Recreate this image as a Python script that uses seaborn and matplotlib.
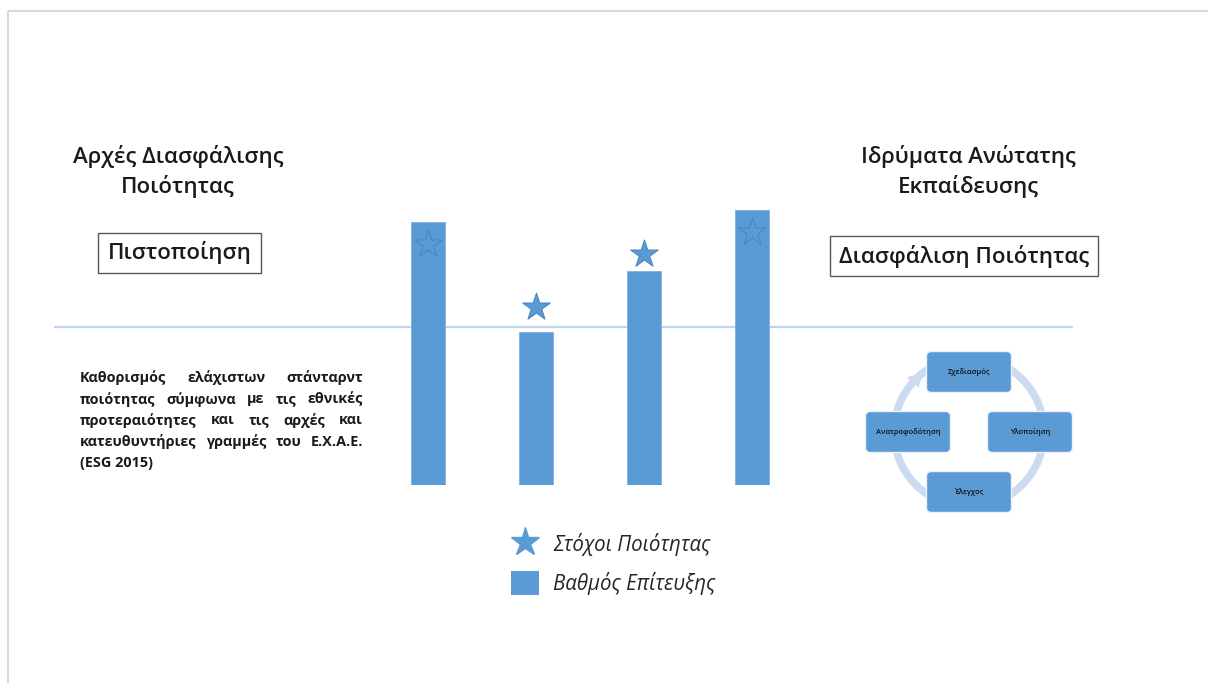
import matplotlib
matplotlib.use('Agg')
import matplotlib.pyplot as plt
import seaborn as sns
import pandas as pd
import numpy as np
from matplotlib.patches import Rectangle, FancyBboxPatch, Circle, Polygon, Patch
from matplotlib.lines import Line2D

# ---------------- data ----------------
categories = ['1', '2', '3', '4']
achievement = [87.7, 51.0, 71.3, 91.7]   # Βαθμός Επίτευξης (bars)
targets = [80.3, 59.3, 77.0, 84.3]       # Στόχοι Ποιότητας (stars)
threshold = 52.7                         # reference line
legend_labels = ['Στόχοι Ποιότητας', 'Βαθμός Επίτευξης']
left_title = ['Αρχές Διασφάλισης', 'Ποιότητας']
right_title = ['Ιδρύματα Ανώτατης', 'Εκπαίδευσης']
left_box = 'Πιστοποίηση'
right_box = 'Διασφάλιση Ποιότητας'
paragraph_lines = [
    'Καθορισμός ελάχιστων στάνταρντ',
    'ποιότητας σύμφωνα με τις εθνικές',
    'προτεραιότητες και τις αρχές και',
    'κατευθυντήριες γραμμές του Ε.Χ.Α.Ε.',
    '(ESG 2015)',
]
cycle_steps = ['Σχεδιασμός', 'Υλοποίηση', 'Έλεγχος', 'Ανατροφοδότηση']

# ---------------- style ----------------
sns.set_theme(style='white')
plt.rcParams['font.family'] = ['Open Sans', 'DejaVu Sans']

BLUE = '#5b9bd5'
DARK = '#1a1a1a'
W, H = 1208, 683
fig = plt.figure(figsize=(W / 100, H / 100), dpi=100)
fig.patch.set_facecolor('white')

bg = fig.add_axes([0, 0, 1, 1])
bg.set_xlim(0, W)
bg.set_ylim(H, 0)
bg.axis('off')

# frame
bg.plot([8, W], [11, 11], color='#d9d9d9', lw=1.5, solid_capstyle='butt')
bg.plot([8, 8], [11, H], color='#d9d9d9', lw=1.5, solid_capstyle='butt')

# ---------------- bar chart ----------------
ax = fig.add_axes([374 / W, (H - 485) / H, 432 / W, 300 / H])
ax.set_facecolor('none')
df = pd.DataFrame({'cat': categories, 'val': achievement})
sns.barplot(data=df, x='cat', y='val', color=BLUE, saturation=1, width=0.315,
            ax=ax, zorder=3, edgecolor='#7fb0df', linewidth=0.6)
sns.scatterplot(x=np.arange(len(categories)), y=targets, marker='*', s=430,
                color=BLUE, edgecolor='#4a86c0', linewidth=0.8, ax=ax, zorder=4,
                legend=False)
ax.set_xlim(-0.5, len(categories) - 0.5)
ax.set_ylim(0, 100)
x0, x1 = 374, 806
ax.axhline(threshold, xmin=(55 - x0) / (x1 - x0), xmax=(1072 - x0) / (x1 - x0),
           color='#bfd6ee', lw=1.6, clip_on=False, zorder=1)
ax.axis('off')

handles = [Line2D([], [], marker='*', ls='none', ms=21, color=BLUE),
           Patch(facecolor=BLUE, edgecolor='none')]
leg = ax.legend(handles, legend_labels, loc='upper left',
                bbox_to_anchor=(511 / W, (H - 532) / H), bbox_transform=fig.transFigure,
                frameon=False, prop={'style': 'italic', 'size': 14.8},
                handlelength=1.36, handleheight=1.45, handletextpad=0.68,
                labelspacing=0.7, borderpad=0, borderaxespad=0)
for t in leg.get_texts():
    t.set_color('#262626')

# ---------------- titles & boxes ----------------
tkw = dict(ha='center', va='center', fontsize=16, fontweight='semibold', color=DARK)
bg.text(178, 157, left_title[0], **tkw)
bg.text(178, 187, left_title[1], **tkw)
bg.text(968, 157, right_title[0], **tkw)
bg.text(968, 187, right_title[1], **tkw)

bg.add_patch(Rectangle((98, 233), 163, 40, fill=False, edgecolor='#595959', lw=1.0))
bg.text(180, 253, left_box, **tkw)
bg.add_patch(Rectangle((830, 236), 268, 40, fill=False, edgecolor='#595959', lw=1.0))
bg.text(964, 256, right_box, **tkw)

# ---------------- justified paragraph ----------------
fig.canvas.draw()
renderer = fig.canvas.get_renderer()
pkw = dict(fontsize=10.4, fontweight='bold', color=DARK, va='center', ha='left')


def width_of(s):
    t = bg.text(0, 0, s, **pkw)
    w = t.get_window_extent(renderer).width
    t.remove()
    return w


px0, px1 = 80, 363
for i, line in enumerate(paragraph_lines):
    y = 378 + i * 21.25
    words = line.split(' ')
    if i == len(paragraph_lines) - 1 or len(words) == 1:
        bg.text(px0, y, line, **pkw)
        continue
    widths = [width_of(w) for w in words]
    gap = (px1 - px0 - sum(widths)) / (len(words) - 1)
    x = px0
    for w, wd in zip(words, widths):
        bg.text(x, y, w, **pkw)
        x += wd + gap

# ---------------- cycle diagram ----------------
cx, cy, r = 969, 432, 75
RING = '#cddbf0'
bg.add_patch(Circle((cx, cy), r, fill=False, edgecolor=RING, lw=5.5, zorder=2))
phi_tip = np.deg2rad(128)
phi_base = phi_tip + 14 / r
tip = np.array([cx + r * np.cos(phi_tip), cy - r * np.sin(phi_tip)])
base = np.array([cx + r * np.cos(phi_base), cy - r * np.sin(phi_base)])
nrm = np.array([np.cos(phi_base), -np.sin(phi_base)])
bg.add_patch(Polygon([base + 8 * nrm, base - 8 * nrm, tip], closed=True,
                     facecolor=RING, edgecolor='none', zorder=2))

box_centers = [(969, 372), (1030, 432), (969, 492), (908, 432)]
bw, bh = 85, 41
for (bx, by), label in zip(box_centers, cycle_steps):
    bg.add_patch(FancyBboxPatch((bx - bw / 2 + 5, by - bh / 2 + 5), bw - 10, bh - 10,
                                boxstyle='round,pad=5', facecolor=BLUE,
                                edgecolor='#e8f0fa', lw=1.0, zorder=3))
    bg.text(bx, by, label, ha='center', va='center', fontsize=5.4, color='#111111',
            fontweight='semibold', zorder=4)

fig.savefig('out.png', dpi=100, facecolor='white')
